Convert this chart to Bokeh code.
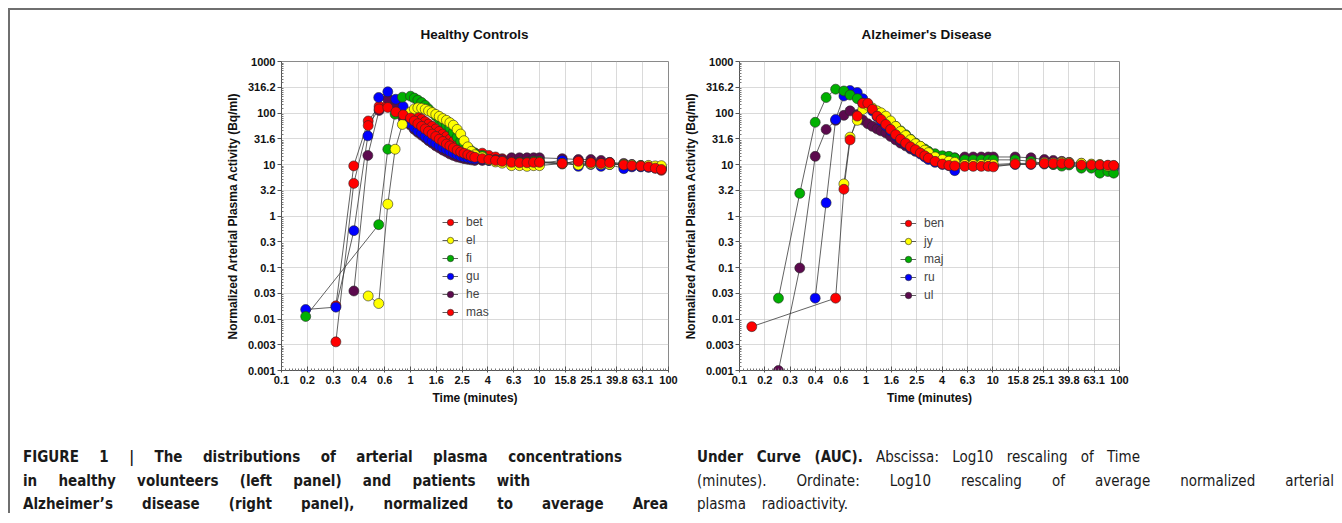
from bokeh.plotting import figure
from bokeh.models import (Range1d, FixedTicker, CustomJSTickFormatter, Div,
                          Legend, LegendItem)
from bokeh.layouts import row, column
from bokeh.embed import file_html
from bokeh.resources import INLINE

# ---------------- tick labels ----------------
X_TICK_LABELS = ["0.1", "0.2", "0.3", "0.4", "0.6", "1", "1.6", "2.5", "4", "6.3",
                 "10", "15.8", "25.1", "39.8", "63.1", "100"]
Y_TICK_LABELS = ["0.001", "0.003", "0.01", "0.03", "0.1", "0.3", "1", "3.2", "10",
                 "31.6", "100", "316.2", "1000"]
PANEL_TITLES = ["Healthy Controls", "Alzheimer's Disease"]

# ---------------- Healthy Controls ----------------
HC_NAMES = ["bet", "el", "fi", "gu", "he", "mas"]
HC_COLORS = ["#ff0000", "#ffff00", "#00b000", "#0000ff", "#5c0a4e", "#ff0000"]
HC_DENSE_T = [1.0, 1.07, 1.14, 1.22, 1.3, 1.38, 1.47, 1.57, 1.67, 1.78, 1.9, 2.02,
              2.15, 2.3, 2.45, 2.6, 2.78, 2.96, 3.15]
HC_LATE_T = [3.6, 4.05, 4.56, 5.14, 6.07, 7.0, 8.0, 9.0, 10.0, 15.0, 20.0, 25.0,
             30.0, 35.0, 45.0, 52.0, 61.0, 70.0, 79.0, 88.0]

bet_early_t = [0.264, 0.363, 0.47, 0.571, 0.667, 0.77, 0.877]
bet_v = [0.0036, 4.3, 57, 120, 128, 105, 92,
         80, 70, 62, 55, 49, 44, 39, 35, 31, 28, 25, 23, 21, 19, 17.5, 16.5, 15.5, 14.5, 13.8,
         13, 12.5, 12, 11.5, 11, 10.8, 10.8, 11, 11, 10.5, 11.5, 10.8, 10.5, 10.8, 9.8, 9.5,
         9.3, 9.0, 8.5, 8.0]
el_early_t = [0.47, 0.567, 0.667, 0.76, 0.865]
el_v = [0.028, 0.02, 1.7, 19.8, 60,
        104, 120, 126, 124, 118, 110, 102, 94, 86, 78, 72, 65, 58, 48, 39, 29, 22, 18, 15.5,
        14, 12.3, 11.2, 10.6, 9.5, 9.5, 9.2, 9.5, 9.5, 10.5, 9.8, 10.2, 10, 10, 10, 9.8, 9.5,
        9.6, 9.4, 9.5]
fi_early_t = [0.154, 0.567, 0.667, 0.76, 0.865]
fi_v = [0.0112, 0.68, 19.8, 95, 203,
        212, 195, 178, 160, 140, 120, 102, 88, 76, 66, 58, 52, 42, 34, 28, 24, 21, 18.5, 16.5,
        15, 12.5, 11.8, 11.5, 11, 11, 11, 11.5, 11.5, 10.5, 10, 10.8, 10.5, 10.2, 10, 9.8, 9.6,
        9.4, 9.0, 8.8]
gu_early_t = [0.154, 0.264, 0.364, 0.467, 0.567, 0.667, 0.769, 0.877]
gu_v = [0.0153, 0.017, 0.52, 36, 200, 258, 185, 134,
        62, 52, 45, 40, 35, 31, 28, 25.5, 23, 21, 19.5, 18, 16.5, 15.5, 14.5, 14, 13.5, 13, 12.8,
        12.5, 12, 11.5, 11, 10.5, 10.2, 10.2, 10.5, 10.5, 12, 9.2, 10, 9.2, 10, 8.3, 9.0, 9.0,
        8.8, 8.5, 8.3]
he_early_t = [0.364, 0.467, 0.571, 0.667, 0.77, 0.877]
he_v = [0.035, 15, 112, 189, 150, 79,
        58, 48, 42, 37, 33, 29, 26, 23, 21, 19, 17.5, 16, 15, 14, 13.5, 13, 12.6, 12.3, 12,
        12, 12, 12.5, 12.5, 13.5, 13.5, 13.5, 13.5, 13.5, 13, 12.5, 12.5, 12, 11, 10.5, 10, 9.5,
        9.2, 8.8, 8.5]
mas_early_t = [0.264, 0.363, 0.47, 0.571, 0.667, 0.77, 0.877]
mas_v = [0.018, 9.4, 70, 135, 150, 118, 110,
         100, 92, 84, 76, 68, 61, 55, 49, 44, 39, 35, 31, 28, 25, 22.5, 20.5, 19, 17.5, 16.8,
         16.6, 15, 14, 13, 12, 11.5, 11, 11, 11, 10.2, 12, 11, 10.5, 10.8, 9.7, 9.2, 9.2, 9.0,
         8.7, 7.7]

# ---------------- Alzheimer's Disease ----------------
AD_NAMES = ["ben", "jy", "maj", "ru", "ul"]
AD_COLORS = ["#ff0000", "#ffff00", "#00b000", "#0000ff", "#5c0a4e"]
AD_DENSE_T = [1.03, 1.12, 1.22, 1.31, 1.43, 1.56, 1.71, 1.87, 2.05, 2.24, 2.45, 2.68, 2.9]
AD_LATE_T = [3.1, 3.5, 4.0, 4.5, 5.0, 6.0, 7.0, 8.1, 9.2, 10.1, 15.0, 20.0, 25.5, 30.0,
             35.0, 40.0, 50.0, 60.0, 70.0, 81.0, 90.0]

ben_early_t = [0.125, 0.574, 0.667, 0.746, 0.851, 0.94]
ben_v = [0.0071, 0.0254, 3.3, 30, 87, 154,
         154, 118, 87, 75, 60, 48, 38, 31, 26, 22, 19.4, 16.7, 14.8,
         13.3, 11.5, 10.2, 9.6, 9.4, 9.2, 9.2, 9.2, 9.2, 9.0, 10.2, 10.2, 10.5, 10.5, 10.5, 10.5,
         9.8, 9.8, 9.8, 9.7, 9.6]
jy_early_t = [0.667, 0.746, 0.851, 0.94]
jy_v = [4.2, 34, 72, 117,
        141, 125, 110, 101, 87, 70, 55, 44, 36.5, 30.4, 25.4, 22.5, 19,
        17, 14, 12.5, 11.6, 11, 10, 10, 10, 10, 10, 10.5, 10.5, 10.9, 10.8, 11, 10.8, 10.6, 10.2,
        10, 9.3, 9.5]
maj_early_t = [0.203, 0.299, 0.396, 0.483, 0.574, 0.667, 0.746, 0.851, 0.94]
maj_v = [0.0254, 2.75, 66, 200, 290, 268, 224, 190, 155,
         135, 118, 104, 92, 80, 66, 55, 45, 38, 31, 26, 22.5, 20,
         18, 16.2, 14.8, 14.4, 13.3, 12.3, 12.3, 12.3, 12.3, 12.3, 12.3, 11.5, 10.5, 10, 9.3, 9.8,
         8.5, 8.5, 6.8, 7.3, 6.8]
ru_early_t = [0.396, 0.483, 0.574, 0.667, 0.746, 0.851, 0.94]
ru_v = [0.0254, 1.8, 75, 214, 273, 250, 190,
        145, 110, 85, 70, 56, 45, 36, 30, 25, 21, 18.5, 16, 14,
        12.5, 11, 10, 9.5, 7.6, 9.5, 9.5, 9.5, 9.5, 9.5, 10, 10, 10.2, 10, 10, 10, 9.2, 9.0, 8.5,
        8.3, 8.3]
ul_early_t = [0.203, 0.299, 0.396, 0.483, 0.574, 0.667, 0.746, 0.851, 0.94]
ul_v = [0.001, 0.098, 14.4, 48, 72, 90, 110, 93, 73,
        62, 55, 49, 45, 41, 35, 30, 26, 23, 20, 18, 16.5, 15.5,
        15, 14.5, 14, 13.8, 13.5, 14, 14, 14, 14, 14, 14, 13.5, 12.5, 12, 11.5, 11, 10.5, 10,
        9.8, 9.5, 9.2]

HC_T = [t + HC_DENSE_T + HC_LATE_T for t in
        [bet_early_t, el_early_t, fi_early_t, gu_early_t, he_early_t, mas_early_t]]
HC_V = [bet_v, el_v, fi_v, gu_v, he_v, mas_v]
AD_T = [t + AD_DENSE_T + AD_LATE_T for t in
        [ben_early_t, jy_early_t, maj_early_t, ru_early_t, ul_early_t]]
AD_V = [ben_v, jy_v, maj_v, ru_v, ul_v]

FONT = "Liberation Sans"


def ticks(start_exp, step, n, nsub):
    majors = [10 ** (start_exp + step * k) for k in range(n)]
    minors = []
    for a, b in zip(majors[:-1], majors[1:]):
        minors += [a + (b - a) * j / nsub for j in range(1, nsub)]
    return majors, minors


def make_panel(names, ts, vs, colors, width, mbl, mbr, legend_loc):
    p = figure(width=width, height=367, x_axis_type="log", y_axis_type="log",
               x_range=Range1d(0.1, 100), y_range=Range1d(0.001, 1000),
               output_backend="svg", toolbar_location=None,
               min_border_left=mbl, min_border_right=mbr,
               min_border_top=13, min_border_bottom=45, margin=0)
    p.outline_line_color = "#8a8a8a"
    p.background_fill_color = "white"

    xm, xn = ticks(-1, 0.2, 16, 8)
    ym, yn = ticks(-3, 0.5, 13, 10)
    p.xaxis.ticker = FixedTicker(ticks=xm, minor_ticks=xn)
    p.yaxis.ticker = FixedTicker(ticks=ym, minor_ticks=yn)
    p.xaxis.formatter = CustomJSTickFormatter(args=dict(labels=X_TICK_LABELS), code="""
        const i = Math.round((Math.log10(tick) + 1) / 0.2);
        return (i >= 0 && i < labels.length) ? labels[i] : "";""")
    p.yaxis.formatter = CustomJSTickFormatter(args=dict(labels=Y_TICK_LABELS), code="""
        const i = Math.round((Math.log10(tick) + 3) / 0.5);
        return (i >= 0 && i < labels.length) ? labels[i] : "";""")
    for ax in (p.xaxis[0], p.yaxis[0]):
        ax.major_label_text_font = FONT
        ax.major_label_text_font_size = "11px"
        ax.major_label_text_font_style = "bold"
        ax.major_label_text_color = "#111111"
        ax.axis_label_text_font = FONT
        ax.axis_label_text_font_size = "12px"
        ax.axis_label_text_font_style = "bold"
        ax.axis_label_text_color = "#111111"
        ax.axis_line_color = "#555555"
        ax.major_tick_line_color = "#555555"
        ax.minor_tick_line_color = "#777777"
    p.xaxis.axis_label = "Time (minutes)"
    p.yaxis.axis_label = "Normalized Arterial Plasma Activity (Bq/ml)"
    p.xaxis.major_tick_in = 4
    p.xaxis.major_tick_out = 2
    p.xaxis.minor_tick_in = 2
    p.xaxis.minor_tick_out = 0
    p.xaxis.major_label_standoff = 3
    p.xaxis.axis_label_standoff = 4
    p.yaxis.major_tick_in = 0
    p.yaxis.major_tick_out = 4
    p.yaxis.minor_tick_in = 2
    p.yaxis.minor_tick_out = 0
    p.yaxis.major_label_standoff = 2
    p.yaxis.axis_label_standoff = 5
    p.grid.grid_line_color = "#b4b4b4"
    p.grid.grid_line_dash = "1 1"
    p.grid.grid_line_width = 1

    lines, dots = {}, {}
    for name, t, v in zip(names, ts, vs):
        lines[name] = p.line(t, v, line_color="#3a3a3a", line_width=0.8)
    for name, t, v, c in reversed(list(zip(names, ts, vs, colors))):
        dots[name] = p.scatter(t, v, size=10, fill_color=c, line_color="#2a2a2a",
                               line_width=0.6)
    items = [LegendItem(label=n, renderers=[lines[n], dots[n]]) for n in names]
    leg = Legend(items=items, location=legend_loc, padding=0, margin=0, spacing=0,
                 glyph_width=16, glyph_height=18, label_height=18, label_standoff=8,
                 label_text_font=FONT, label_text_font_size="12px",
                 background_fill_alpha=0, border_line_alpha=0)
    p.add_layout(leg)
    return p


p1 = make_panel(HC_NAMES, HC_T, HC_V, HC_COLORS, 670, 271, 12, (161, 49))
p2 = make_panel(AD_NAMES, AD_T, AD_V, AD_COLORS, 654, 53, 215, (161, 66))

# panel titles, centred over each plot frame
title_style = ("position: absolute; top: 17px; width: 387px; text-align: center; "
               "font-family: 'Liberation Sans', sans-serif; font-weight: bold; "
               "font-size: 13.5px; line-height: 16px; color: #111111; white-space: nowrap;")
titles = Div(text=(
    "<div style=\"position: relative; width: 1324px; height: 38px;\">"
    f"<div style=\"{title_style} left: 271px;\">{PANEL_TITLES[0]}</div>"
    f"<div style=\"{title_style} left: 723px;\">{PANEL_TITLES[1]}</div>"
    "</div>"), width=1324, height=38, margin=0)

cap_font = ("font-family: 'Liberation Sans Narrow', 'DejaVu Sans Condensed', 'Liberation Sans', "
            "sans-serif; font-stretch: condensed; font-size: 15px; line-height: 20px; "
            "color: #1a1a1a;")
just = "position: absolute; white-space: nowrap; text-align: justify; text-align-last: justify;"
lines_html = [
    (13, 32, 599, "<b>FIGURE 1 | The distributions of arterial plasma concentrations</b>"),
    (13, 56, 507, "<b>in healthy volunteers (left panel) and patients with</b>"),
    (13, 79, 645, "<b>Alzheimer\u2019s disease (right panel), normalized to average Area</b>"),
    (687, 32, 443, "<b>Under Curve (AUC).</b> Abscissa: Log10 rescaling of Time"),
    (687, 56, 637, "(minutes). Ordinate: Log10 rescaling of average normalized arterial"),
    (687, 79, 151, "plasma radioactivity."),
]
inner = "".join(
    f"<div style=\"{just} left: {x}px; top: {y}px; width: {w}px;\">{txt}</div>"
    for x, y, w, txt in lines_html)
caption = Div(text=f"<div style=\"position: relative; width: 1324px; height: 98px; {cap_font}\">"
                   f"{inner}</div>",
              width=1324, height=98, margin=0)

top_line = Div(text="", width=1334, height=2, margin=0,
               styles={"background-color": "#6f6f6f"})
left_line = Div(text="", width=2, height=503, margin=0,
                styles={"background-color": "#6f6f6f"})

layout = column(top_line, row(left_line, column(titles, row(p1, p2), caption)),
                margin=(8, 0, 0, 8))

open("out.html", "w").write(file_html(layout, INLINE))
